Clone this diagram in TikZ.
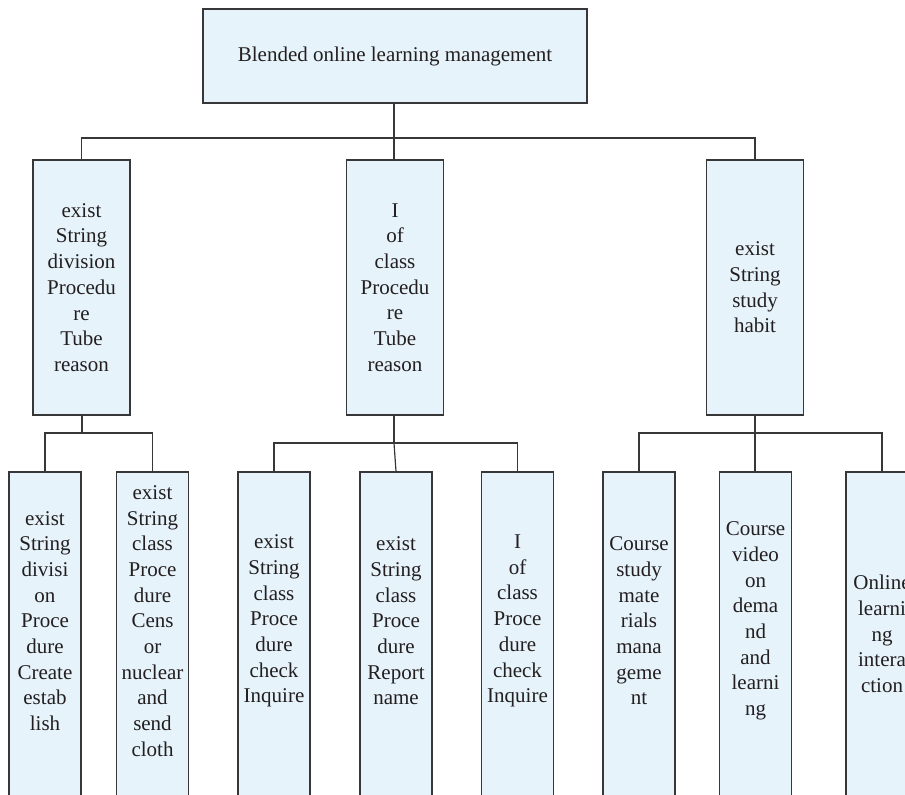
\documentclass[tikz,border=0pt]{standalone}
\usepackage{fontspec}
\setmainfont{Liberation Serif}
\definecolor{boxfill}{RGB}{230,243,250}
\definecolor{edge}{RGB}{55,55,55}
\definecolor{ink}{RGB}{35,31,32}
\begin{document}
\begin{tikzpicture}[x=1pt,y=-1pt,
  box/.style={rectangle, draw=edge, fill=boxfill, line width=1.2pt, inner sep=0pt},
  midbox/.style={box, minimum width=97pt, minimum height=255pt},
  leafbox/.style={box, minimum width=72pt, minimum height=360pt},
  txt/.style={align=center, inner sep=0pt, text=ink, font=\fontsize{21}{25.7}\selectfont},
  link/.style={draw=edge, line width=1.2pt}]
\path[use as bounding box, clip] (0,0) rectangle (905,795);

% top level
\node[box, txt, minimum width=384pt, minimum height=94pt] (root) at (395,56)
  {Blended online learning management};

% second level
\node[midbox, txt] (ma) at (81.5,287.5)
  {exist\\String\\division\\Procedu\\re\\Tube\\reason};
\node[midbox, txt] (mb) at (395,287.5)
  {I\\of\\class\\Procedu\\re\\Tube\\reason};
\node[midbox, txt] (mc) at (755,287.5)
  {exist\\String\\study\\habit};

% third level frames (run past the lower edge)
\node[leafbox] (la) at (45,652) {};
\node[leafbox] (lb) at (152.5,652) {};
\node[leafbox] (lc) at (274,652) {};
\node[leafbox] (ld) at (396,652) {};
\node[leafbox] (le) at (517.5,652) {};
\node[leafbox] (lf) at (639,652) {};
\node[leafbox] (lg) at (755.5,652) {};
\node[leafbox] (lh) at (882,652) {};

% third level labels
\node[txt] (ta) at (45,621)
  {exist\\String\\divisi\\on\\Proce\\dure\\Create\\estab\\lish};
\node[txt] (tb) at (152.5,621)
  {exist\\String\\class\\Proce\\dure\\Cens\\or\\nuclear\\and\\send\\cloth};
\node[txt] (tc) at (274,621)
  {exist\\String\\class\\Proce\\dure\\check\\Inquire};
\node[txt] (td) at (396,621)
  {exist\\String\\class\\Proce\\dure\\Report\\name};
\node[txt] (te) at (517.5,621)
  {I\\of\\class\\Proce\\dure\\check\\Inquire};
\node[txt] (tf) at (639,621)
  {Course\\study\\mate\\rials\\mana\\geme\\nt};
\node[txt] (tg) at (755.5,621)
  {Course\\video\\on\\dema\\nd\\and\\learni\\ng};
\node[txt] (th) at (882,634)
  {Online\\learni\\ng\\intera\\ction};

% junction points of the tree
\coordinate (j0) at (394,138);
\coordinate (ja) at (82,433);
\coordinate (jb) at (394,443);
\coordinate (jc) at (755,433);

% connectors
\draw[link] (root.south -| j0) -- (j0);
\draw[link] (ma.north) |- (j0) -| (mc.north);
\draw[link] (j0) -- (mb.north -| j0);

\draw[link] (ma.south -| ja) -- (ja);
\draw[link] (la.north) |- (ja) -| (lb.north);

\draw[link] (mb.south -| jb) -- (jb);
\draw[link] (lc.north) |- (jb) -| (le.north);
\draw[link] (jb) -- (ld.north);

\draw[link] (mc.south -| jc) -- (jc);
\draw[link] (lf.north) |- (jc) -| (lh.north);
\draw[link] (jc) -- (lg.north -| jc);
\end{tikzpicture}
\end{document}
